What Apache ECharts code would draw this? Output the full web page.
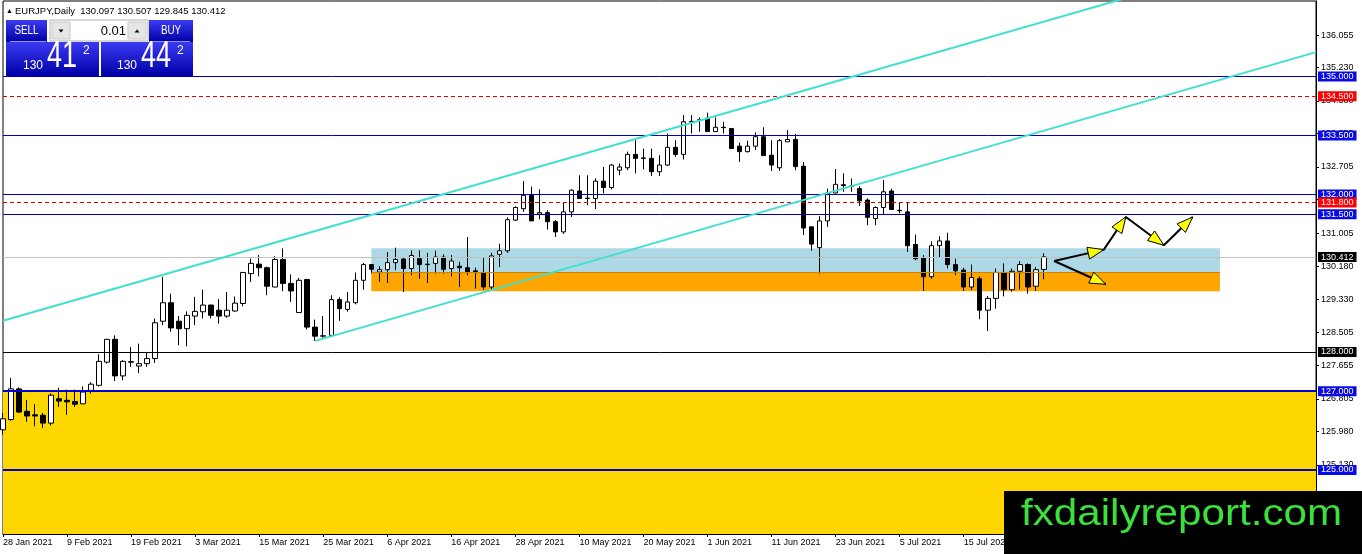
<!DOCTYPE html>
<html>
<head>
    <meta charset="utf-8" />
    <title>EURJPY Daily</title>
    <script src="https://cdn.jsdelivr.net/npm/echarts@6/dist/echarts.min.js"></script>
    <style>
        html, body { margin: 0; padding: 0; background: #fff; }
        #main { width: 1362px; height: 554px; }
    </style>
</head>
<body>
    <div id="main"></div>
    <script type="text/javascript">

        var symbolName = 'EURJPY';
        var askPrice = 130.442;

        // one label every 8 daily bars
        var dateTicks = ['28 Jan 2021', '9 Feb 2021', '19 Feb 2021', '3 Mar 2021', '15 Mar 2021', '25 Mar 2021',
            '6 Apr 2021', '16 Apr 2021', '28 Apr 2021', '10 May 2021', '20 May 2021', '1 Jun 2021',
            '11 Jun 2021', '23 Jun 2021', '5 Jul 2021', '15 Jul 2021', '27 Jul 2021'];

        // [open, close, low, high]
        var candles = [
            [126.02, 126.30, 125.90, 126.45], [126.28, 127.06, 126.25, 127.34], [127.06, 126.47, 126.45, 127.10],
            [126.49, 126.37, 126.22, 126.78], [126.40, 126.37, 126.11, 126.67], [126.39, 126.19, 126.07, 126.45],
            [126.19, 126.90, 126.13, 126.95], [126.81, 126.75, 126.60, 127.09], [126.77, 126.73, 126.40, 127.04],
            [126.74, 126.67, 126.60, 127.04], [126.68, 126.98, 126.68, 127.12], [127.02, 127.18, 126.94, 127.23],
            [127.15, 127.76, 127.12, 127.94], [127.74, 128.32, 127.70, 128.33], [128.32, 127.39, 127.26, 128.42],
            [127.39, 127.76, 127.28, 127.79], [127.75, 127.74, 127.62, 128.12], [127.64, 127.70, 127.46, 128.21],
            [127.70, 127.83, 127.62, 128.00], [127.83, 128.74, 127.72, 128.85], [128.78, 129.25, 128.68, 129.91],
            [129.25, 128.61, 128.51, 129.48], [128.78, 128.59, 128.17, 128.91], [128.59, 128.93, 128.14, 129.03],
            [128.91, 129.03, 128.68, 129.40], [129.02, 129.19, 128.85, 129.58], [129.19, 128.93, 128.85, 129.20],
            [129.06, 128.91, 128.72, 129.34], [128.91, 129.06, 128.87, 129.52], [129.04, 129.24, 129.02, 129.41],
            [129.23, 130.02, 129.16, 130.03], [129.99, 130.25, 129.78, 130.37], [130.23, 130.14, 129.92, 130.46],
            [130.14, 129.67, 129.44, 130.17], [129.65, 130.35, 129.64, 130.43], [130.35, 129.74, 129.54, 130.63],
            [129.74, 129.55, 129.27, 129.97], [129.00, 129.82, 128.99, 129.88], [129.84, 128.63, 128.57, 129.86],
            [128.63, 128.40, 128.28, 128.82], [128.40, 128.41, 128.36, 128.91], [128.42, 129.33, 128.40, 129.44],
            [129.33, 129.10, 128.79, 129.39], [129.08, 129.27, 129.02, 129.52], [129.25, 129.82, 129.21, 130.02],
            [129.82, 130.22, 129.58, 130.26], [130.22, 130.10, 129.99, 130.23], [130.03, 130.09, 129.78, 130.18],
            [130.09, 130.27, 129.75, 130.54], [130.27, 130.35, 130.08, 130.65], [130.36, 130.12, 129.52, 130.41],
            [130.12, 130.45, 129.95, 130.58], [130.37, 130.22, 129.86, 130.58], [130.23, 130.22, 129.75, 130.52],
            [130.25, 130.41, 129.99, 130.57], [130.41, 130.10, 129.99, 130.48], [130.12, 130.31, 129.92, 130.46],
            [130.18, 130.14, 129.65, 130.29], [130.14, 130.03, 129.95, 130.92], [130.06, 130.03, 129.61, 130.14],
            [130.02, 129.65, 129.58, 130.41], [129.65, 130.44, 129.58, 130.52], [130.48, 130.57, 130.16, 130.75],
            [130.57, 131.36, 130.52, 131.42], [131.35, 131.67, 131.33, 131.70], [131.64, 131.98, 131.56, 132.34],
            [131.98, 131.33, 131.33, 132.20], [131.50, 131.54, 131.37, 132.13], [131.54, 131.31, 131.11, 131.60],
            [131.31, 131.05, 130.92, 131.35], [131.05, 131.56, 131.00, 131.79], [131.56, 132.11, 131.43, 132.13],
            [132.09, 131.90, 131.89, 132.49], [131.90, 131.91, 131.73, 132.49], [131.90, 132.34, 131.63, 132.41],
            [132.34, 132.18, 132.03, 132.70], [132.18, 132.75, 132.13, 132.77], [132.62, 132.70, 132.49, 132.79],
            [132.68, 133.02, 132.62, 133.09], [133.02, 132.92, 132.54, 133.38], [132.93, 132.92, 132.64, 133.17],
            [132.92, 132.58, 132.47, 133.17], [132.58, 132.75, 132.47, 133.00], [132.75, 133.20, 132.73, 133.55],
            [133.20, 133.02, 132.96, 133.38], [133.02, 133.85, 132.89, 134.02], [133.86, 133.85, 133.55, 134.02],
            [133.89, 133.90, 133.60, 133.96], [133.94, 133.60, 133.60, 134.08], [133.60, 133.71, 133.60, 133.96],
            [133.71, 133.70, 133.55, 133.85], [133.68, 133.17, 133.16, 133.69], [133.23, 133.09, 132.83, 133.32],
            [133.09, 133.23, 133.07, 133.37], [133.23, 133.47, 133.13, 133.58], [133.47, 132.99, 132.99, 133.71],
            [133.00, 132.75, 132.60, 133.38], [132.68, 133.37, 132.60, 133.41], [133.34, 133.40, 133.34, 133.64],
            [133.40, 132.71, 132.62, 133.54], [132.72, 131.15, 130.97, 132.83], [131.18, 130.74, 130.57, 131.18],
            [130.65, 131.33, 129.99, 131.45], [131.33, 132.04, 131.18, 132.15], [132.04, 132.26, 132.03, 132.65],
            [132.25, 132.23, 132.07, 132.54], [132.22, 132.21, 132.07, 132.41], [132.15, 131.84, 131.71, 132.21],
            [131.86, 131.42, 131.22, 131.90], [131.39, 131.67, 131.22, 131.70], [131.67, 132.07, 131.50, 132.37],
            [132.09, 131.62, 131.62, 132.15], [131.60, 131.59, 131.52, 131.80], [131.56, 130.70, 130.54, 131.80],
            [130.73, 130.37, 130.33, 130.98], [130.40, 129.91, 129.55, 130.46], [129.91, 130.70, 129.86, 130.81],
            [130.70, 130.82, 130.40, 130.94], [130.82, 130.22, 130.12, 131.03], [130.22, 130.06, 129.95, 130.37],
            [130.08, 129.65, 129.55, 130.14], [129.65, 129.89, 129.57, 130.22], [129.86, 129.06, 128.83, 129.92],
            [129.06, 129.36, 128.53, 129.42], [129.36, 130.02, 129.10, 130.12], [130.02, 129.58, 129.41, 130.25],
            [129.58, 130.05, 129.53, 130.12], [130.05, 130.22, 129.59, 130.31], [130.22, 129.65, 129.48, 130.25],
            [129.67, 130.09, 129.55, 130.16], [130.097, 130.412, 129.845, 130.507]
        ];

        var priceTicks = [136.055, 135.230, 134.380, 133.555, 132.705, 131.880, 131.005, 130.180,
            129.330, 128.505, 127.655, 126.805, 125.980, 125.130];

        var blueLevels = [135.0, 133.5, 132.0, 131.5];
        var redLevels = [134.5, 131.8];
        var blackLevels = [128.0];
        var thickBlueLevels = [127.0, 125.0];

        var goldZoneTop = 127.0;
        var boxFrom = 46, boxTo = 152;
        var blueZone = [130.635, 130.025];
        var orangeZone = [130.025, 129.541];

        var upperChannel = [[0, 128.79], [140, 136.98]];
        var lowerChannel = [[39, 128.28], [164, 135.62]];

        var arrowPath = [[131.3, 130.31], [137.5, 130.60], [140.25, 131.43], [145.0, 130.71], [148.6, 131.43]];
        var arrowDown = [[131.3, 130.31], [137.75, 129.72]];

        var slotCount = 165;
        var yMin = 123.371, yMax = 136.92;
        var fontName = 'Liberation Sans';

        var slots = [];
        for (var i = 0; i < slotCount; i++) slots.push(String(i));
        var last = candles[candles.length - 1];

        function level(v, color, width, type, box) {
            return {
                yAxis: v,
                lineStyle: { color: color, width: width, type: type },
                label: {
                    show: true, position: 'end', distance: 2,
                    formatter: v.toFixed(3), color: '#fff', backgroundColor: box,
                    padding: [1, 3, 0, 3], fontSize: 9, fontFamily: fontName
                }
            };
        }

        var levelData = [];
        blueLevels.forEach(function (v) { levelData.push(level(v, '#0000c0', 1, 'solid', '#0a0ae6')); });
        redLevels.forEach(function (v) { levelData.push(level(v, '#e00000', 1, [4, 3], '#ff0000')); });
        blackLevels.forEach(function (v) { levelData.push(level(v, '#000000', 1, 'solid', '#000000')); });
        thickBlueLevels.forEach(function (v) { levelData.push(level(v, '#0000d0', 2, 'solid', '#0a0ae6')); });
        levelData.push(level(last[1], '#c0c0c0', 1, 'solid', '#000000'));

        var chartDom = document.getElementById('main');
        var myChart = echarts.init(chartDom);

        var option = {
            animation: false,
            backgroundColor: '#fff',
            grid: { left: 3, right: 46, top: 1, bottom: 20, show: true, borderColor: '#000', borderWidth: 1 },
            xAxis: [{
                type: 'category',
                data: slots,
                boundaryGap: false,
                axisLine: { onZero: false, lineStyle: { color: '#000' } },
                axisTick: { interval: 7, length: 3, lineStyle: { color: '#000' } },
                axisLabel: {
                    interval: 7, align: 'left', margin: 4, fontSize: 9, color: '#000', fontFamily: fontName,
                    formatter: function (v, idx) { return dateTicks[idx / 8] || ''; }
                },
                splitLine: { show: false }
            }, {
                type: 'value', min: 0, max: slotCount - 1, show: false,
                axisLine: { onZero: false }
            }],
            yAxis: {
                type: 'value',
                position: 'right',
                min: yMin,
                max: yMax,
                axisLine: { show: true, onZero: false, lineStyle: { color: '#000' } },
                axisTick: { show: true, length: 3, customValues: priceTicks, lineStyle: { color: '#000' } },
                axisLabel: {
                    customValues: priceTicks, margin: 5, fontSize: 9, color: '#000', fontFamily: fontName,
                    formatter: function (v) { return v.toFixed(3); }
                },
                splitLine: { show: false }
            },
            series: [{
                name: 'zones',
                type: 'line',
                xAxisIndex: 1,
                data: [],
                z: 1,
                silent: true,
                markArea: {
                    silent: true,
                    data: [
                        [{ yAxis: goldZoneTop, itemStyle: { color: '#ffd700' } }, { yAxis: yMin }],
                        [{ coord: [boxFrom, blueZone[0]], itemStyle: { color: '#add8e6' } }, { coord: [boxTo, blueZone[1]] }],
                        [{ coord: [boxFrom, orangeZone[0]], itemStyle: { color: '#ffa500' } }, { coord: [boxTo, orangeZone[1]] }]
                    ]
                },
                markLine: {
                    silent: true,
                    symbol: ['none', 'none'],
                    label: { show: false },
                    lineStyle: { color: '#c98600', width: 1, type: 'solid' },
                    data: [[{ coord: [boxFrom, orangeZone[0]] }, { coord: [boxTo, orangeZone[0]] }]]
                }
            }, {
                name: symbolName,
                type: 'candlestick',
                xAxisIndex: 0,
                data: candles,
                barWidth: 5,
                z: 3,
                itemStyle: {
                    color: '#ffffff', color0: '#000000',
                    borderColor: '#000000', borderColor0: '#000000', borderWidth: 1
                }
            }, {
                name: 'levels',
                type: 'line',
                xAxisIndex: 1,
                data: [],
                z: 4,
                markLine: { silent: true, symbol: ['none', 'none'], data: levelData }
            }, {
                name: 'upper channel',
                type: 'line',
                xAxisIndex: 1,
                data: upperChannel,
                symbol: 'none',
                z: 5,
                lineStyle: { color: '#40e0d0', width: 2 }
            }, {
                name: 'lower channel',
                type: 'line',
                xAxisIndex: 1,
                data: lowerChannel,
                symbol: 'none',
                z: 5,
                lineStyle: { color: '#40e0d0', width: 2 }
            }, {
                name: 'path',
                type: 'line',
                xAxisIndex: 1,
                data: arrowPath,
                symbol: 'none',
                z: 6,
                lineStyle: { color: '#000', width: 2 }
            }, {
                name: 'path down',
                type: 'line',
                xAxisIndex: 1,
                data: arrowDown,
                symbol: 'none',
                z: 6,
                lineStyle: { color: '#000', width: 2 }
            }]
        };

        myChart.setOption(option);

        // arrow heads, placed through the axes
        function toPx(p) { return myChart.convertToPixel({ xAxisIndex: 1, yAxisIndex: 0 }, p); }
        function head(a, b) {
            var pa = toPx(a), pb = toPx(b);
            var dx = pb[0] - pa[0], dy = pb[1] - pa[1];
            var len = Math.sqrt(dx * dx + dy * dy);
            var ux = dx / len, uy = dy / len;
            var bx = pb[0] - ux * 16, by = pb[1] - uy * 16;
            return {
                type: 'polygon', z: 50,
                shape: { points: [[pb[0], pb[1]], [bx - uy * 6, by + ux * 6], [bx + uy * 6, by - ux * 6]] },
                style: { fill: '#ffff00', stroke: '#000', lineWidth: 1 }
            };
        }
        var heads = [];
        for (var k = 1; k < arrowPath.length; k++) heads.push(head(arrowPath[k - 1], arrowPath[k]));
        heads.push(head(arrowDown[0], arrowDown[1]));

        var blueGrad = new echarts.graphic.LinearGradient(0, 0, 0, 1, [
            { offset: 0, color: '#3a3af2' }, { offset: 1, color: '#0000a6' }
        ]);

        function priceText(p, x0) {
            var s = p.toFixed(3);
            return [
                { type: 'text', z: 61, x: x0, y: 66, style: { text: s.slice(0, 3), fill: '#fff', font: '12px ' + fontName, verticalAlign: 'middle' } },
                { type: 'text', z: 61, x: x0 + 24, y: 57, scaleX: 0.75, style: { text: s.slice(4, 6), fill: '#fff', font: '36px ' + fontName, verticalAlign: 'middle' } },
                { type: 'text', z: 61, x: x0 + 60, y: 51, style: { text: s.slice(6), fill: '#fff', font: '12px ' + fontName, verticalAlign: 'middle' } }
            ];
        }

        var panel = [
            { type: 'text', z: 60, x: 6, y: 11, style: { text: '\u25B2', fill: '#000', font: '7px ' + fontName, verticalAlign: 'middle' } },
            {
                type: 'text', z: 60, x: 15, y: 11, style: {
                    text: symbolName + ',Daily  ' + last[0].toFixed(3) + ' ' + last[3].toFixed(3) + ' ' + last[2].toFixed(3) + ' ' + last[1].toFixed(3),
                    fill: '#000', font: '9.5px ' + fontName, verticalAlign: 'middle'
                }
            },
            { type: 'rect', z: 60, shape: { x: 6, y: 20, width: 41, height: 22 }, style: { fill: blueGrad } },
            { type: 'rect', z: 60, shape: { x: 149, y: 20, width: 44, height: 22 }, style: { fill: blueGrad } },
            { type: 'rect', z: 60, shape: { x: 6, y: 42, width: 93, height: 34 }, style: { fill: blueGrad } },
            { type: 'rect', z: 60, shape: { x: 101, y: 42, width: 92, height: 34 }, style: { fill: blueGrad } },
            { type: 'line', z: 61, shape: { x1: 10, y1: 41.5, x2: 46, y2: 41.5 }, style: { stroke: '#9090ff', lineWidth: 1 } },
            { type: 'line', z: 61, shape: { x1: 153, y1: 41.5, x2: 190, y2: 41.5 }, style: { stroke: '#9090ff', lineWidth: 1 } },
            { type: 'text', z: 61, x: 26.5, y: 31, scaleX: 0.82, style: { text: 'SELL', fill: '#fff', font: '12px ' + fontName, align: 'center', verticalAlign: 'middle' } },
            { type: 'text', z: 61, x: 171, y: 31, scaleX: 0.82, style: { text: 'BUY', fill: '#fff', font: '12px ' + fontName, align: 'center', verticalAlign: 'middle' } },
            { type: 'rect', z: 60, shape: { x: 50, y: 20, width: 98, height: 21 }, style: { fill: '#fff', stroke: '#b0b0b0' } },
            { type: 'rect', z: 61, shape: { x: 52, y: 22, width: 18, height: 17 }, style: { fill: '#e6e6e6', stroke: '#c8c8c8' } },
            { type: 'rect', z: 61, shape: { x: 128, y: 22, width: 18, height: 17 }, style: { fill: '#e6e6e6', stroke: '#c8c8c8' } },
            { type: 'polygon', z: 62, shape: { points: [[58.5, 29.5], [63.5, 29.5], [61, 32.5]] }, style: { fill: '#000' } },
            { type: 'polygon', z: 62, shape: { points: [[134.5, 32.5], [139.5, 32.5], [137, 29.5]] }, style: { fill: '#000' } },
            { type: 'text', z: 61, x: 126, y: 31, style: { text: '0.01', fill: '#000', font: '13px ' + fontName, align: 'right', verticalAlign: 'middle' } }
        ].concat(priceText(last[1], 23)).concat(priceText(askPrice, 117));

        var watermark = [
            { type: 'rect', z: 70, shape: { x: 1004, y: 491, width: 358, height: 63 }, style: { fill: '#000' } },
            { type: 'text', z: 71, x: 1021, y: 515, scaleX: 1.14, style: { text: 'fxdailyreport.com', fill: '#3be13b', font: '37px ' + fontName, verticalAlign: 'middle' } }
        ];

        myChart.setOption({ graphic: heads.concat(panel).concat(watermark) });

    </script>
</body>
</html>
